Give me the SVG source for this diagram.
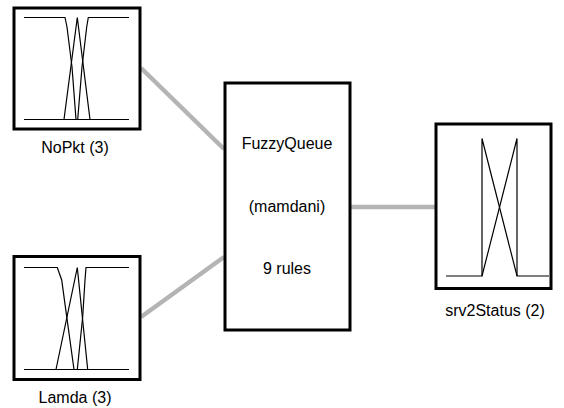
<svg xmlns="http://www.w3.org/2000/svg" width="564" height="408" viewBox="0 0 564 408">
<style>
.box{fill:#fff;stroke:#000;stroke-width:3}
.mf{fill:none;stroke:#000;stroke-width:1.2}
.conn{stroke:#b4b4b4;stroke-width:4.5;fill:none}
.lbl{font-family:"Liberation Sans",Arial,sans-serif;font-size:16px;fill:#000;text-anchor:middle}
</style>
<rect width="564" height="408" fill="#fff"/>
<g id="connectors">
<line class="conn" x1="141" y1="68" x2="224" y2="149"/>
<line class="conn" x1="141" y1="317" x2="224" y2="257"/>
<line class="conn" x1="351" y1="207" x2="436" y2="207"/>
</g>
<g id="NoPkt">
<rect class="box" x="14" y="8" width="126" height="121"/>
<polyline class="mf" points="24,17.5 65,17.5 67,27 72,67 76,119.5"/>
<polyline class="mf" points="64,119.5 77.3,17.5 90,119.5"/>
<polyline class="mf" points="77.7,119.5 82,67 86.7,27 88.3,17.5 129,17.5"/>
<line class="mf" x1="24" y1="119.5" x2="129" y2="119.5"/>
<text class="lbl" x="75" y="153">NoPkt (3)</text>
</g>
<g id="Lamda">
<rect class="box" x="14" y="256.5" width="126" height="123"/>
<polyline class="mf" points="24,267.5 57.3,267.5 61.7,280 66.7,316.7 74,369.5"/>
<polyline class="mf" points="56,369.5 77.3,267.5 87.7,369.5"/>
<polyline class="mf" points="77.3,369.5 82.7,316.7 85,280 86,267.5 129,267.5"/>
<line class="mf" x1="24" y1="369.5" x2="129" y2="369.5"/>
<text class="lbl" x="75" y="403">Lamda (3)</text>
</g>
<g id="FuzzyQueue">
<rect class="box" x="225" y="83" width="125" height="247"/>
<text class="lbl" x="287" y="149">FuzzyQueue</text>
<text class="lbl" x="287" y="212">(mamdani)</text>
<text class="lbl" x="287" y="274">9 rules</text>
</g>
<g id="srv2Status">
<rect class="box" x="436" y="124" width="115" height="164.5"/>
<polyline class="mf" points="446,276 482,276 482,138.5 517,276 549,276"/>
<polyline class="mf" points="482,276 517,138.5 517,276"/>
<text class="lbl" x="495" y="316">srv2Status (2)</text>
</g>
</svg>
